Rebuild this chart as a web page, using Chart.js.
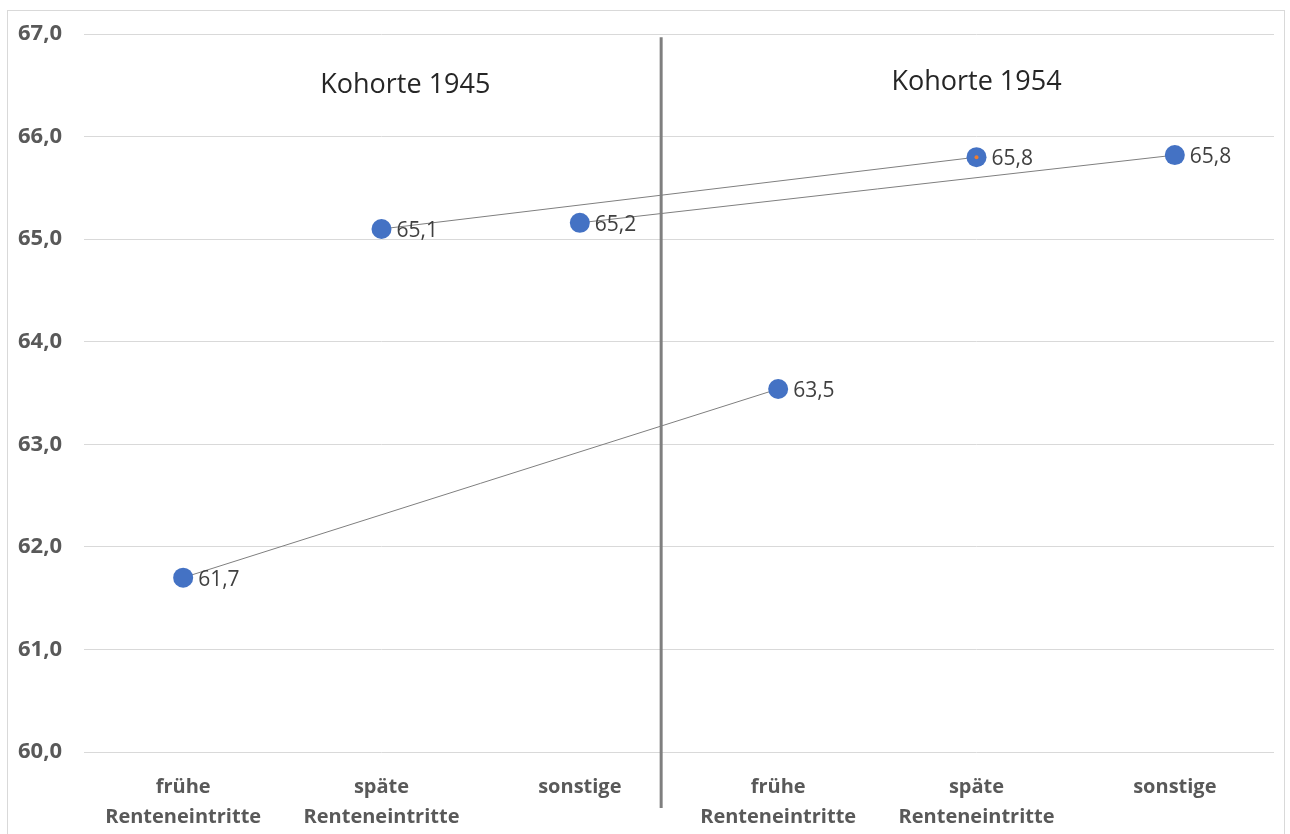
<!DOCTYPE html>
<html>
<head>
<meta charset="utf-8">
<script src="https://cdn.jsdelivr.net/npm/chart.js@4"></script>
<style>
  body { margin: 0; background: #fff; }
  #box { position: absolute; left: 7px; top: 10px; width: 1276px; height: 830px; border: 1px solid #d9d9d9; }
</style>
</head>
<body>
<div id="box"><canvas id="myChart" width="1276" height="824"></canvas></div>
<script>
// ****** Daten ******
var kategorien = [['frühe', 'Renteneintritte'], ['späte', 'Renteneintritte'], 'sonstige',
                  ['frühe', 'Renteneintritte'], ['späte', 'Renteneintritte'], 'sonstige'];
var fruehe   = [61.7, null, null, 63.54, null, null];
var spaete   = [null, 65.1, null, null, 65.8, null];
var sonstige = [null, null, 65.16, null, null, 65.82];
var marker   = [null, null, null, null, 65.8, null];
var yTicks   = [60, 61, 62, 63, 64, 65, 66, 67];
var kohorten = ['Kohorte 1945', 'Kohorte 1954'];

var fmt = function(v) { return (Math.round(v * 10) / 10).toFixed(1).replace('.', ','); };

// ****** Trennlinie, Kohorten-Titel, Datenbeschriftung ******
var extras = {
    id: 'extras',
    afterDatasetsDraw: function(chart) {
        var ctx = chart.ctx, x = chart.scales.x, y = chart.scales.y;
        ctx.save();
        // Trennlinie
        var xd = x.getPixelForValue(2.41);
        ctx.strokeStyle = '#7f7f7f';
        ctx.lineWidth = 3;
        ctx.beginPath();
        ctx.moveTo(xd, y.getPixelForValue(66.97));
        ctx.lineTo(xd, chart.chartArea.bottom + 56);
        ctx.stroke();
        // Titel
        ctx.fillStyle = '#262626';
        ctx.font = '27px "Open Sans"';
        ctx.textAlign = 'center';
        ctx.textBaseline = 'middle';
        ctx.fillText(kohorten[0], x.getPixelForValue(1.12), y.getPixelForValue(66.5));
        ctx.fillText(kohorten[1], x.getPixelForValue(4.0), y.getPixelForValue(66.53));
        // Werte
        ctx.fillStyle = '#404040';
        ctx.font = '21px "Open Sans"';
        ctx.textAlign = 'left';
        [0, 1, 2].forEach(function(di) {
            var meta = chart.getDatasetMeta(di);
            chart.data.datasets[di].data.forEach(function(v, i) {
                if (v === null) return;
                var p = meta.data[i];
                ctx.fillText(fmt(v), p.x + 15, p.y + 2);
            });
        });
        ctx.restore();
    }
};

var serie = function(label, data) {
    return {
        label: label,
        data: data,
        spanGaps: true,
        borderColor: '#7f7f7f',
        borderWidth: 1,
        pointBackgroundColor: '#4472C4',
        pointBorderColor: '#4472C4',
        pointRadius: 10,
        pointBorderWidth: 0,
        order: 1
    };
};

var ctx = document.getElementById('myChart').getContext('2d');
var myChart = new Chart(ctx, {
    type: 'line',
    data: {
        labels: kategorien,
        datasets: [
            serie('frühe', fruehe),
            serie('späte', spaete),
            serie('sonstige', sonstige),
            {
                label: 'marker',
                data: marker,
                showLine: false,
                pointBackgroundColor: '#ED7D31',
                pointBorderWidth: 0,
                pointRadius: 2,
                order: 0
            }
        ]
    },
    options: {
        responsive: false,
        animation: false,
        layout: { padding: { top: 21, right: 10, left: 0, bottom: 0 } },
        scales: {
            y: {
                min: 60,
                max: 67,
                afterBuildTicks: function(axis) { axis.ticks = yTicks.map(function(v) { return { value: v }; }); },
                afterFit: function(axis) { axis.width = 76; },
                border: { display: false },
                grid: { color: '#d9d9d9', drawTicks: false },
                ticks: {
                    padding: 22,
                    color: '#595959',
                    font: { family: '"Open Sans"', size: 22, weight: 'bold', lineHeight: 0.1 },
                    callback: function(v) { return fmt(v); }
                }
            },
            x: {
                offset: true,
                afterFit: function(axis) { axis.height = 83; },
                border: { display: false },
                grid: { display: false },
                ticks: {
                    padding: 12,
                    maxRotation: 0,
                    color: '#595959',
                    font: { family: '"Open Sans"', size: 20, weight: 'bold', lineHeight: 1.5 }
                }
            }
        },
        plugins: {
            legend: { display: false },
            tooltip: { enabled: false }
        }
    },
    plugins: [extras]
});
</script>
</body>
</html>
